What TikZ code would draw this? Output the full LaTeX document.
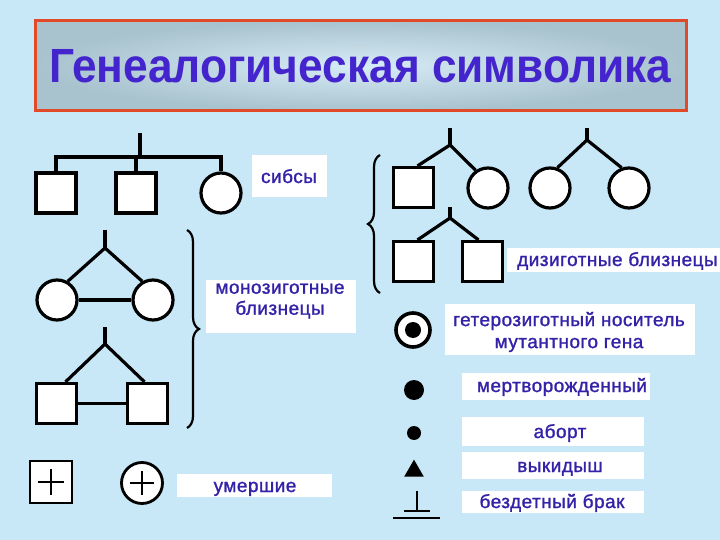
\documentclass[tikz,border=0pt]{standalone}
\usepackage{fontspec}
\setmainfont{Liberation Sans}
\newfontfamily\lblfont{Liberation Sans}[FakeBold=1.3, LetterSpace=2.5]
\usetikzlibrary{decorations.pathreplacing,shapes.geometric,calc}
\definecolor{bg}{HTML}{C8E8F8}
\definecolor{txt}{HTML}{3322A8}
\definecolor{ttl}{HTML}{4424CC}
\definecolor{frame}{HTML}{E04A28}
\definecolor{shout}{HTML}{A8C2CE}
\definecolor{shin}{HTML}{D6ECF6}
\tikzset{
  male/.style={draw=black, line width=3.2pt, fill=white, rectangle, minimum size=40pt, inner sep=0pt},
  female/.style={draw=black, line width=3.2pt, fill=white, circle, minimum size=40pt, inner sep=0pt},
  ln/.style={line width=3.2pt},
  thinln/.style={line width=2.2pt},
  box/.style={fill=white, inner sep=0pt},
  lbl/.style={text=txt, font=\lblfont\fontsize{19}{21}\selectfont, inner sep=0pt, align=center},
  brc/.style={line width=2.2pt, decorate, decoration={brace, amplitude=12pt}},
}
\begin{document}
\begin{tikzpicture}[x=1pt,y=-1pt]
\fill[bg] (0,0) rectangle (720,540);
\useasboundingbox (0,0) rectangle (720,540);
% title
\node[draw=frame, line width=3pt, inner color=shin, outer color=shout, minimum width=651pt, minimum height=90pt, inner sep=0pt] (titlebox) at (361,66) {};
\node[text=ttl, anchor=base west, inner sep=0pt] (title) at (49,83) {\resizebox{622pt}{33pt}{\bfseries Генеалогическая символика}};

% sibs
\coordinate (s0) at (140,133);
\coordinate (s1) at (140,157);
\node[male] (sm1) at (56,193) {};
\node[male] (sm2) at (136,193) {};
\node[female] (sf1) at (221,193) {};
\draw[ln] (s0) -- (s1);
\draw[ln] (sm1.north) -- (sm1.north |- s1) -- (sf1.north |- s1) -- (sf1.north);
\draw[ln] (sm2.north) -- (sm2.north |- s1);
\node[box, minimum width=75pt, minimum height=42pt] (sibbox) at (289.5,176) {};
\node[lbl, anchor=base] (sibtxt) at (289,183) {сибсы};

% monozygotic twins (female)
\coordinate (mt0) at (105,230);
\coordinate (ma) at (105,248);
\node[female] (mc1) at (57,300) {};
\node[female] (mc2) at (153,300) {};
\draw[ln] (mt0) -- (ma);
\draw[ln] (mc1.60) -- (ma) -- (mc2.120);
\draw[ln] (mc1.east) -- (mc2.west);
% monozygotic twins (male)
\coordinate (mt1) at (105,327);
\coordinate (mb) at (105,344);
\node[male] (mq1) at (56.5,403.5) {};
\node[male] (mq2) at (147.5,403.5) {};
\draw[ln] (mt1) -- (mb);
\draw[ln] ($(mq1.north)+(9,0)$) -- (mb) -- ($(mq2.north)+(-3,0)$);
\draw[ln] (mq1.east) -- (mq2.west);
% brace
\coordinate (br1a) at (187,230);
\coordinate (br1b) at (187,428);
\draw[brc] (br1a) -- (br1b);
\node[box, minimum width=150pt, minimum height=53pt] (monobox) at (280.5,306.5) {};
\node[lbl] (monotxt) at (280,301) {монозиготные\\близнецы};

% deceased
\node[male, line width=2.8pt, minimum size=42pt] (dm) at (51,482) {};
\draw[thinln] ($(dm.center)+(-13,0)$) -- ($(dm.center)+(13,0)$);
\draw[thinln] ($(dm.center)+(0,-13)$) -- ($(dm.center)+(0,13)$);
\node[female, line width=2.8pt, minimum size=41pt] (dc) at (142,483) {};
\draw[thinln] ($(dc.center)+(-12,0)$) -- ($(dc.center)+(12,0)$);
\draw[thinln] ($(dc.center)+(0,-12)$) -- ($(dc.center)+(0,12)$);
\node[box, minimum width=155pt, minimum height=23pt] (deadbox) at (254.5,485.5) {};
\node[lbl, anchor=base] (deadtxt) at (255,492) {умершие};

% dizygotic twins
\coordinate (dt0) at (450,128);
\coordinate (da) at (450,145);
\node[male] (dq1) at (413.5,187.5) {};
\node[female] (df1) at (488,188) {};
\draw[ln] (dt0) -- (da);
\draw[ln] ($(dq1.north)+(4,0)$) -- (da) -- (df1.125);
\coordinate (dt1) at (587,128);
\coordinate (db) at (587,140);
\node[female] (df2) at (550,188) {};
\node[female] (df3) at (629,188) {};
\draw[ln] (dt1) -- (db);
\draw[ln] (df2.70) -- (db) -- (df3.110);
\coordinate (dt2) at (450,207);
\coordinate (dc2) at (450,218);
\node[male] (dq2) at (413.5,261.5) {};
\node[male] (dq3) at (482.5,261.5) {};
\draw[ln] (dt2) -- (dc2);
\draw[ln] ($(dq2.north)+(4,0)$) -- (dc2) -- ($(dq3.north)+(-4,0)$);
\coordinate (br2a) at (380,293);
\coordinate (br2b) at (380,155);
\draw[brc] (br2a) -- (br2b);
\node[box, minimum width=213pt, minimum height=24pt] (dizbox) at (613.5,260) {};
\node[lbl, anchor=base west] (diztxt) at (517,266) {дизиготные близнецы};

% heterozygous carrier
\node[circle, draw=black, line width=3.6pt, fill=white, minimum size=34pt, inner sep=0pt] (car) at (413,330) {};
\node[circle, fill=black, minimum size=16pt, inner sep=0pt] (cardot) at (car.center) {};
\node[box, minimum width=250pt, minimum height=51pt] (carbox) at (570,329.5) {};
\node[lbl, font=\lblfont\fontsize{19}{22}\selectfont] (cartxt) at (569,332) {гетерозиготный носитель\\мутантного гена};

% stillborn
\node[circle, fill=black, minimum size=20pt, inner sep=0pt] (still) at (414,390) {};
\node[box, minimum width=188pt, minimum height=27pt] (stillbox) at (556,386.5) {};
\node[lbl, anchor=base] (stilltxt) at (562,392) {мертворожденный};

% abortion
\node[circle, fill=black, minimum size=14pt, inner sep=0pt] (abo) at (414,433) {};
\node[box, minimum width=182pt, minimum height=29pt] (abobox) at (553,431.5) {};
\node[lbl, anchor=base] (abotxt) at (560,438) {аборт};

% miscarriage
\node[isosceles triangle, shape border rotate=90, isosceles triangle apex angle=60, fill=black, minimum height=17pt, inner sep=0pt] (mis) at (414,471) {};
\node[box, minimum width=182pt, minimum height=27pt] (misbox) at (553,465.5) {};
\node[lbl, anchor=base] (mistxt) at (560,472) {выкидыш};

% childless
\coordinate (cl0) at (417,491);
\coordinate (cl1) at (417,511);
\coordinate (cl2) at (404,511);
\coordinate (cl3) at (430,511);
\coordinate (cl4) at (393,518);
\coordinate (cl5) at (440,518);
\draw[thinln] (cl0) -- (cl1);
\draw[thinln] (cl2) -- (cl3);
\draw[thinln] (cl4) -- (cl5);
\node[box, minimum width=182pt, minimum height=22pt] (clbox) at (553,502) {};
\node[lbl, anchor=base] (cltxt) at (552,508) {бездетный брак};
\end{tikzpicture}
\end{document}
